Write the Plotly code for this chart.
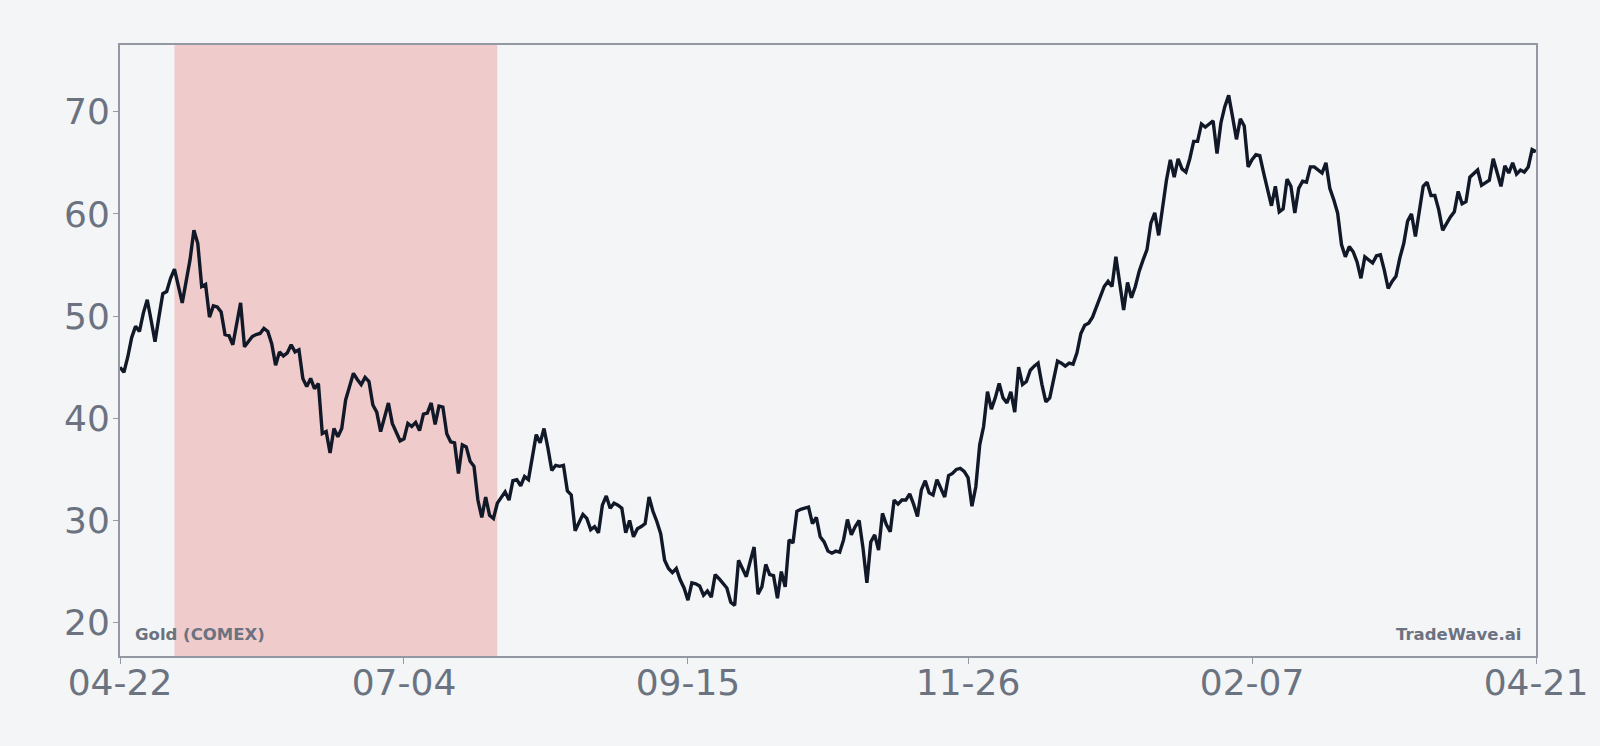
import pandas as pd
import plotly.graph_objects as go

start_date = "2022-04-22"
end_date = "2023-04-21"

gold_values = [
    45.0, 44.5, 46.0, 47.9, 49.0, 48.5, 50.3, 51.6, 49.6, 47.5,
    49.9, 52.2, 52.4, 53.7, 54.6, 52.9, 51.3, 53.4, 55.5, 58.4,
    57.1, 52.9, 53.1, 49.9, 51.0, 50.9, 50.4, 48.2, 48.1, 47.2,
    49.3, 51.3, 47.0, 47.5, 48.0, 48.2, 48.3, 48.8, 48.5, 47.3,
    45.2, 46.5, 46.1, 46.4, 47.2, 46.5, 46.7, 43.9, 43.1, 43.9,
    42.9, 43.4, 38.5, 38.7, 36.6, 39.0, 38.2, 39.0, 41.8, 43.1,
    44.4, 43.8, 43.3, 44.0, 43.6, 41.3, 40.6, 38.7, 40.1, 41.5,
    39.5, 38.6, 37.8, 38.0, 39.5, 39.2, 39.6, 38.8, 40.4, 40.5,
    41.5, 39.4, 41.2, 41.1, 38.5, 37.7, 37.6, 34.6, 37.4, 37.2,
    35.8, 35.3, 32.0, 30.3, 32.3, 30.5, 30.2, 31.7, 32.2, 32.8,
    32.0, 33.9, 34.0, 33.4, 34.3, 34.0, 36.2, 38.4, 37.6, 39.0,
    37.1, 34.9, 35.4, 35.3, 35.4, 32.9, 32.5, 29.0, 29.8, 30.6,
    30.2, 29.1, 29.4, 28.8, 31.5, 32.4, 31.2, 31.7, 31.5, 31.2,
    28.8, 30.0, 28.4, 29.2, 29.4, 29.7, 32.3, 30.9, 29.9, 28.7,
    26.1, 25.3, 24.9, 25.3, 24.2, 23.4, 22.2, 23.9, 23.8, 23.6,
    22.7, 23.1, 22.5, 24.7, 24.3, 23.9, 23.4, 22.0, 21.7, 26.1,
    25.2, 24.5, 26.0, 27.4, 22.8, 23.5, 25.7, 24.7, 24.6, 22.4,
    25.0, 23.5, 28.1, 27.8, 30.9, 31.1, 31.2, 31.3, 29.7, 30.3,
    28.4, 27.9, 27.0, 26.8, 27.0, 26.9, 28.1, 30.1, 28.6, 29.4,
    30.0, 27.3, 23.9, 27.9, 28.6, 27.1, 30.7, 29.6, 28.9, 32.0,
    31.6, 32.0, 32.0, 32.6, 31.6, 30.4, 33.0, 33.9, 32.7, 32.5,
    34.0, 33.1, 32.3, 34.4, 34.6, 35.0, 35.1, 34.8, 34.2, 31.4,
    33.3, 37.4, 39.2, 42.6, 40.9, 42.0, 43.4, 42.0, 41.5, 42.6,
    40.6, 45.0, 43.3, 43.6, 44.7, 45.1, 45.4, 43.3, 41.6, 42.0,
    43.7, 45.6, 45.4, 45.1, 45.4, 45.3, 46.4, 48.3, 49.1, 49.3,
    49.9, 50.9, 51.9, 52.9, 53.4, 52.9, 55.8, 53.2, 50.6, 53.3,
    51.8, 52.9, 54.4, 55.5, 56.5, 59.1, 60.1, 57.9, 60.7, 63.3,
    65.3, 63.6, 65.4, 64.4, 64.1, 65.4, 67.1, 67.1, 68.8, 68.5,
    68.8, 69.1, 65.9, 68.9, 70.5, 71.6, 69.5, 67.3, 69.3, 68.6,
    64.6, 65.3, 65.8, 65.7, 64.0, 62.2, 60.8, 62.7, 60.2, 60.5,
    63.4, 62.7, 60.1, 62.5, 63.2, 63.1, 64.6, 64.6, 64.3, 64.0,
    65.0, 62.5, 61.4, 60.1, 57.0, 55.8, 56.8, 56.3, 55.3, 53.7,
    55.8, 55.5, 55.2, 55.9, 56.0, 54.5, 52.7, 53.4, 53.9, 55.7,
    57.1, 59.3, 60.0, 57.8, 60.4, 62.7, 63.1, 61.8, 61.8, 60.4,
    58.4, 59.1, 59.7, 60.2, 62.2, 61.0, 61.2, 63.6, 64.0, 64.3,
    62.8, 63.1, 63.3, 65.4, 64.1, 62.7, 64.7, 64.0, 65.0, 63.9,
    64.3, 64.1, 64.6, 66.3, 66.1,
]
dates = pd.date_range(start_date, end_date, freq="D")

shade_start = "2022-05-06"
shade_end = "2022-07-28"

tick_dates = ["2022-04-22", "2022-07-04", "2022-09-15", "2022-11-26", "2023-02-07", "2023-04-21"]
tick_labels = ["04-22", "07-04", "09-15", "11-26", "02-07", "04-21"]
y_ticks = [20, 30, 40, 50, 60, 70]

source_label = "Gold (COMEX)"
brand_label = "TradeWave.ai"

BG = "#f4f5f7"
AXIS = "#9398a3"
TEXT = "#6b7280"
FONT = "DejaVu Sans"

fig = go.Figure()
fig.add_trace(go.Scatter(
    x=dates, y=gold_values, mode="lines",
    line=dict(color="#111827", width=3.4),
    hoverinfo="skip", showlegend=False,
))

fig.add_shape(
    type="rect", xref="x", yref="paper",
    x0=shade_start, x1=shade_end, y0=0, y1=1,
    fillcolor="#efcbcb", line=dict(width=0), layer="below",
)

fig.add_annotation(
    text=f"<b>{source_label}</b>", xref="paper", yref="paper",
    x=0.0095, y=0.016, xanchor="left", yanchor="bottom", showarrow=False,
    font=dict(family=FONT, size=16.5, color=TEXT),
)
fig.add_annotation(
    text=f"<b>{brand_label}</b>", xref="paper", yref="paper",
    x=0.991, y=0.016, xanchor="right", yanchor="bottom", showarrow=False,
    font=dict(family=FONT, size=16.5, color=TEXT),
)

fig.update_layout(
    width=1600, height=746,
    margin=dict(l=120, r=64, t=45, b=90),
    paper_bgcolor=BG, plot_bgcolor=BG,
    font=dict(family=FONT, color=TEXT),
    xaxis=dict(
        type="date", range=[start_date, end_date],
        tickvals=tick_dates, ticktext=tick_labels,
        tickfont=dict(family=FONT, size=36, color=TEXT),
        showgrid=False, zeroline=False,
        showline=True, linecolor=AXIS, linewidth=2, mirror=True,
        ticks="outside", ticklen=6, tickcolor=AXIS, tickwidth=1,
        ticklabelstandoff=-12,
    ),
    yaxis=dict(
        range=[16.74, 76.53],
        tickvals=y_ticks,
        tickfont=dict(family=FONT, size=36, color=TEXT),
        showgrid=False, zeroline=False,
        showline=True, linecolor=AXIS, linewidth=2, mirror=True,
        ticks="outside", ticklen=5, tickcolor=AXIS, tickwidth=1,
        ticklabelstandoff=-4,
    ),
)

fig.write_html("out.html")
